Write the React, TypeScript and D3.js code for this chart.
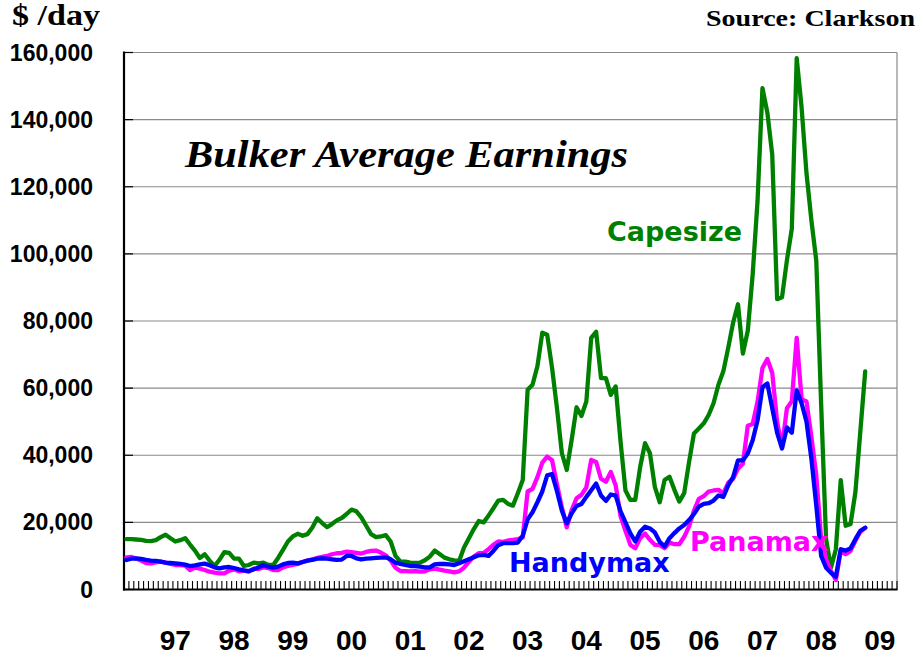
import React from "react";
import * as d3 from "d3";

// Monthly average earnings, $'000 per day
const capesize = [
  15.0, 15.0, 14.9, 14.8, 14.5, 14.4, 14.7, 15.6, 16.3, 15.3, 14.3, 14.7, 15.3, 13.4, 11.6, 9.4,
  10.5, 8.6, 7.0, 8.8, 11.1, 10.9, 9.2, 9.2, 7.0, 7.3, 8.0, 7.8, 8.0, 7.3, 7.3, 9.4,
  11.8, 14.3, 15.8, 16.6, 16.0, 16.5, 18.5, 21.2, 19.8, 18.6, 19.5, 20.6, 21.3, 22.5, 23.8, 23.3,
  21.5, 19.0, 16.5, 15.6, 15.8, 16.2, 14.3, 10.0, 8.3, 8.3, 8.0, 7.9, 8.0, 8.7, 9.8, 11.6,
  10.6, 9.5, 9.0, 8.7, 8.5, 12.5, 15.3, 18.0, 20.4, 20.0, 22.0, 24.2, 26.5, 26.7, 25.5, 25.0,
  28.7, 32.6, 59.5, 61.0, 66.5, 76.5, 75.9, 66.0, 54.0, 40.6, 35.6, 44.6, 54.3, 51.7, 56.0, 75.0,
  76.8, 63.0, 63.0, 58.0, 60.5, 44.0, 29.5, 26.7, 26.7, 36.5, 43.6, 40.6, 30.6, 26.0, 32.6, 33.6,
  29.7, 26.2, 28.7, 38.0, 46.5, 48.0, 49.5, 52.0, 55.5, 61.0, 65.0, 72.0, 79.5, 85.0, 70.3, 77.1,
  93.9, 115.9, 149.4, 142.1, 129.5, 86.5, 87.1, 98.1, 107.5, 158.3, 143.6, 124.0, 110.0, 98.0, 55.0, 15.0,
  6.5, 12.0, 32.6, 19.0, 19.5, 29.0, 47.0, 65.0,
];
const panamax = [
  9.6, 9.7, 9.2, 8.6, 7.9, 7.8, 8.1, 8.3, 8.0, 7.6, 7.3, 7.3, 7.1, 5.8, 6.5, 6.2,
  5.8, 5.3, 5.0, 4.8, 4.8, 5.6, 6.0, 5.4, 5.6, 5.3, 6.2, 6.1, 6.6, 6.4, 5.8, 5.8,
  6.6, 7.0, 7.3, 7.6, 8.2, 8.6, 9.0, 9.4, 9.7, 10.0, 10.5, 10.8, 10.9, 11.3, 11.1, 10.9,
  10.7, 11.2, 11.5, 11.6, 11.0, 10.2, 8.6, 6.5, 5.5, 5.5, 5.4, 5.5, 5.3, 5.4, 6.0, 6.2,
  5.9, 5.6, 5.4, 5.1, 5.4, 6.5, 8.3, 9.8, 10.8, 10.9, 12.0, 13.3, 14.3, 14.2, 14.6, 14.8,
  15.0, 15.5, 29.2, 30.0, 33.5, 37.8, 39.6, 38.5, 31.3, 24.5, 18.5, 23.7, 27.2, 28.2, 30.4, 38.6,
  38.0, 33.0, 32.1, 35.0, 31.0, 21.8, 17.5, 13.3, 12.3, 15.3, 16.7, 14.8, 13.3, 13.2, 12.3, 14.0,
  13.5, 13.5, 15.7, 18.8, 23.5, 27.0, 27.8, 29.2, 29.5, 29.7, 28.6, 31.8, 33.0, 36.0, 37.5, 48.8,
  49.3, 56.0, 66.0, 68.7, 64.5, 49.9, 42.5, 54.0, 56.1, 75.0, 56.7, 56.0, 45.5, 34.0, 15.0, 9.0,
  5.5, 2.8, 11.5, 10.5, 11.5, 14.5, 17.2, 18.4,
];
const handymax = [
  8.8, 9.2, 9.3, 9.1, 8.8, 8.6, 8.5, 8.3, 8.0, 7.9, 7.8, 7.6, 7.4, 7.0, 7.2, 7.5,
  7.7, 7.2, 6.6, 6.3, 6.6, 6.7, 6.4, 6.0, 5.7, 5.5, 6.0, 6.6, 7.3, 6.8, 6.5, 6.8,
  7.5, 7.9, 8.0, 7.8, 8.2, 8.6, 8.8, 9.2, 9.3, 9.2, 9.0, 8.8, 8.9, 10.0, 10.0, 9.3,
  9.0, 9.2, 9.3, 9.4, 9.5, 9.6, 9.0, 8.0, 7.6, 7.3, 7.0, 7.0, 6.8, 6.6, 6.6, 7.5,
  7.6, 7.6, 7.5, 7.3, 7.8, 8.4, 9.0, 9.6, 10.2, 10.3, 10.0, 11.5, 13.2, 13.8, 13.8, 13.8,
  14.0, 16.0, 20.9, 23.0, 26.0, 29.2, 34.0, 34.4, 29.3, 23.5, 19.7, 22.7, 24.9, 25.5, 27.6, 29.6,
  31.6, 28.0, 26.4, 28.3, 28.0, 23.3, 20.0, 16.7, 14.3, 17.2, 18.7, 18.2, 17.0, 14.2, 12.8, 15.3,
  16.8, 18.2, 19.2, 20.7, 22.5, 24.7, 25.5, 25.7, 26.5, 28.0, 27.6, 31.0, 33.5, 38.5, 38.5, 40.5,
  44.5, 50.4, 60.3, 61.4, 54.0, 46.7, 42.0, 48.3, 46.7, 59.3, 55.5, 50.0, 39.0, 25.0, 10.0, 6.5,
  5.0, 3.8, 12.0, 11.6, 12.3, 15.0, 17.5, 18.4,
];

const yearLabels = ["97", "98", "99", "00", "01", "02", "03", "04", "05", "06", "07", "08", "09"];
const yTicks = [0, 20, 40, 60, 80, 100, 120, 140, 160];
const seriesNames = ["Capesize", "Panamax", "Handymax"];
const seriesColors = ["#008000", "#ff00ff", "#0000ff"];

const N_CATEGORIES = 158;
const FIRST_LABEL_INDEX = 10;

export default function App() {
  const W = 923;
  const H = 663;
  const left = 124;
  const right = 897;
  const top = 52.5;
  const bottom = 589.5;

  const x = d3.scaleLinear().domain([0, N_CATEGORIES]).range([left, right]);
  const y = d3.scaleLinear().domain([0, 160]).range([bottom, top]);
  const line = d3
    .line<number>()
    .x((_, i) => x(i + 0.5))
    .y((d) => y(d));

  const fmt = d3.format(",");
  const tickIdx = d3.range(0, N_CATEGORIES + 1);
  const series = [capesize, panamax, handymax];

  const sans = "'Liberation Sans', Arial, sans-serif";
  const serif = "'Liberation Serif', 'Times New Roman', serif";
  const dejavu = "'DejaVu Sans', Verdana, sans-serif";

  return (
    <svg
      width={W}
      height={H}
      style={{ position: "absolute", left: 0, top: 0, background: "#fff" }}
    >
      <rect x={0} y={0} width={W} height={H} fill="#fff" />
      {/* gridlines */}
      {yTicks.map((t) => (
        <line
          key={"g" + t}
          x1={left}
          x2={right}
          y1={y(t)}
          y2={y(t)}
          stroke="#8a8a8a"
          strokeWidth={1.2}
        />
      ))}
      {/* right border */}
      <line x1={right} x2={right} y1={top} y2={bottom} stroke="#8a8a8a" strokeWidth={1.2} />
      {/* y ticks */}
      {yTicks.map((t) => (
        <line key={"yt" + t} x1={left} x2={left + 9} y1={y(t)} y2={y(t)} stroke="#000" strokeWidth={1.2} />
      ))}
      {/* x ticks */}
      {tickIdx.map((i) => (
        <line key={"xt" + i} x1={x(i)} x2={x(i)} y1={bottom} y2={bottom - 8.5} stroke="#000" strokeWidth={1.1} />
      ))}
      {/* axes */}
      <line x1={left} x2={left} y1={top - 1} y2={bottom + 1} stroke="#000" strokeWidth={2.2} />
      <line x1={left - 1} x2={right + 0.5} y1={bottom} y2={bottom} stroke="#000" strokeWidth={2.2} />

      {/* series */}
      {series.map((s, k) => (
        <path
          key={seriesNames[k]}
          d={line(s) || ""}
          fill="none"
          stroke={seriesColors[k]}
          strokeWidth={4.3}
          strokeLinejoin="round"
          strokeLinecap="round"
        />
      ))}

      {/* y labels */}
      {yTicks.map((t) => (
        <text
          key={"yl" + t}
          x={93}
          y={y(t)}
          textAnchor="end"
          dominantBaseline="central"
          fontFamily={sans}
          fontWeight="bold"
          fontSize={23}
          fill="#000"
        >
          {fmt(t * 1000)}
        </text>
      ))}
      {/* x labels */}
      {yearLabels.map((lab, k) => (
        <text
          key={"xl" + lab}
          x={x(FIRST_LABEL_INDEX + 12 * k + 0.5)}
          y={650}
          textAnchor="middle"
          fontFamily={sans}
          fontWeight="bold"
          fontSize={28}
          fill="#000"
        >
          {lab}
        </text>
      ))}

      {/* titles */}
      <text
        x={12}
        y={25}
        fontFamily={serif}
        fontWeight="bold"
        fontSize={29}
        textLength={88}
        lengthAdjust="spacingAndGlyphs"
        fill="#000"
      >
        $ /day
      </text>
      <text
        x={706}
        y={26}
        fontFamily={serif}
        fontWeight="bold"
        fontSize={23}
        textLength={209}
        lengthAdjust="spacingAndGlyphs"
        fill="#000"
      >
        Source: Clarkson
      </text>
      <text
        x={185}
        y={167}
        fontFamily={serif}
        fontWeight="bold"
        fontStyle="italic"
        fontSize={37}
        textLength={443}
        lengthAdjust="spacingAndGlyphs"
        fill="#000"
      >
        Bulker Average Earnings
      </text>

      {/* series labels */}
      <text x={607} y={241} fontFamily={dejavu} fontWeight="bold" fontSize={27} fill={seriesColors[0]}>
        {seriesNames[0]}
      </text>
      <text x={690} y={551} fontFamily={dejavu} fontWeight="bold" fontSize={27} fill={seriesColors[1]}>
        {seriesNames[1]}
      </text>
      <text x={509} y={572} fontFamily={dejavu} fontWeight="bold" fontSize={27} fill={seriesColors[2]}>
        {seriesNames[2]}
      </text>
    </svg>
  );
}
